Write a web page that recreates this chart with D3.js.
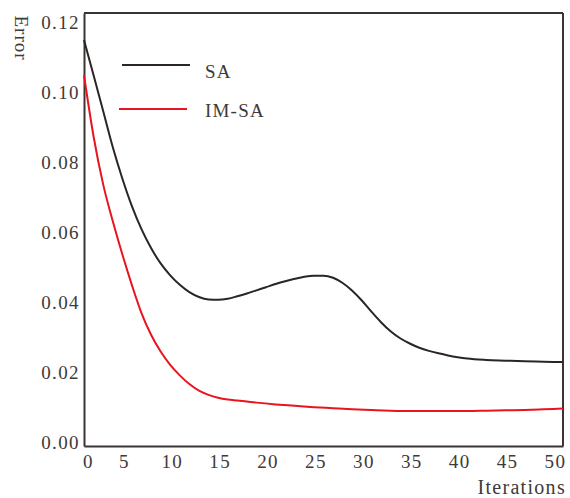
<!DOCTYPE html>
<html>
<head>
<meta charset="utf-8">
<script src="https://cdn.jsdelivr.net/npm/d3@7"></script>
<style>
  body { margin: 0; background: #fff; }
  svg { display: block; }
  text { font-family: "Liberation Serif", "Times New Roman", serif; fill: #3e3a39; }
</style>
</head>
<body>
<svg></svg>
<script>
// iterations and error values
let iterations = [0,1,2,3,4,5,6,7,8,9,10,11,12,13,14,15,16,17,18,19,20,21,22,23,24,25,26,27,28,29,30,31,32,33,34,35,36,37,38,39,40,42,44,46,48,50]
let saError = [0.1161,0.1060,0.0958,0.0855,0.0765,0.0686,0.0620,0.0566,0.0522,0.0488,0.0461,0.0440,0.0426,0.0419,0.0418,0.0421,0.0428,0.0436,0.0445,0.0454,0.0463,0.0471,0.0478,0.0484,0.0487,0.0487,0.0481,0.0466,0.0444,0.0416,0.0384,0.0354,0.0328,0.0308,0.0293,0.0281,0.0272,0.0265,0.0259,0.0254,0.0250,0.0246,0.0244,0.0242,0.0241,0.0240]
let imsaIter = [0,1,2,3,4,5,6,7,8,9,10,11,12,13,14,15,16,17,18,20,22,24,26,28,30,32,34,36,38,40,42,44,46,48,50]
let imsaError = [0.106,0.0885,0.0748,0.0643,0.0548,0.0460,0.0380,0.0318,0.0270,0.0232,0.0202,0.0177,0.0158,0.0146,0.0138,0.0133,0.0130,0.0127,0.0124,0.0119,0.0115,0.0111,0.0108,0.0105,0.0103,0.0101,0.0100,0.0100,0.0100,0.0100,0.0101,0.0102,0.0103,0.0105,0.0107]

let xTicks = [0,5,10,15,20,25,30,35,40,45,50]
let yTicks = [0,0.02,0.04,0.06,0.08,0.10,0.12]
let seriesNames = ['SA', 'IM-SA']

let width = 570
let height = 498
let plotLeft = 84, plotRight = 563, plotTop = 13, plotBottom = 446

let svg = d3.select('svg').attr('width', width).attr('height', height)

let xScale = d3.scaleLinear().domain([0, 50]).range([plotLeft, plotRight])
let yScale = d3.scaleLinear().domain([0, 0.1238]).range([plotBottom, plotTop])

let axisColor = '#3a3533'

// x axis
let xAxis = d3.axisBottom(xScale).tickValues(xTicks).tickSize(0).tickFormat(d3.format('d'))
let gx = svg.append('g')
  .attr('transform', 'translate(0,' + plotBottom + ')')
  .call(xAxis)
gx.select('.domain').attr('stroke', axisColor).attr('stroke-width', 2)
gx.selectAll('text')
  .attr('y', 16)
  .attr('dy', '0.32em')
  .attr('dx', (d) => d === 0 ? 4 : -8)
  .style('font-size', '19px')
  .style('letter-spacing', '1.4px')
  .attr('fill', '#3e3a39')

// y axis
let yAxis = d3.axisLeft(yScale).tickValues(yTicks).tickSize(0).tickFormat(d3.format('.2f'))
let gy = svg.append('g')
  .attr('transform', 'translate(' + plotLeft + ',0)')
  .call(yAxis)
gy.select('.domain').attr('stroke', axisColor).attr('stroke-width', 2)
gy.selectAll('text')
  .attr('x', -4)
  .attr('dy', '0.32em')
  .attr('y', -4)
  .style('font-size', '19px')
  .style('letter-spacing', '1.4px')
  .attr('fill', '#3e3a39')

// frame top and right
svg.append('line').attr('x1', plotLeft).attr('x2', plotRight).attr('y1', plotTop).attr('y2', plotTop)
  .attr('stroke', axisColor).attr('stroke-width', 2)
svg.append('line').attr('x1', plotRight).attr('x2', plotRight).attr('y1', plotTop).attr('y2', plotBottom)
  .attr('stroke', axisColor).attr('stroke-width', 2)

// axis titles
svg.append('text')
  .attr('transform', 'translate(15,38) rotate(90)')
  .attr('text-anchor', 'middle')
  .style('font-size', '19px')
  .style('letter-spacing', '1px')
  .text('Error')

svg.append('text')
  .attr('x', 566)
  .attr('y', 494)
  .attr('text-anchor', 'end')
  .style('font-size', '20px')
  .style('letter-spacing', '1.3px')
  .text('Iterations')

// lines
let line = d3.line()
  .x((d) => xScale(d[0]))
  .y((d) => yScale(d[1]))
  .curve(d3.curveMonotoneX)

let saData = iterations.map((it, i) => [it, saError[i]])
let imsaData = imsaIter.map((it, i) => [it, imsaError[i]])

svg.append('path').datum(saData)
  .attr('d', line)
  .attr('fill', 'none')
  .attr('stroke', '#2b2523')
  .attr('stroke-width', 2)

svg.append('path').datum(imsaData)
  .attr('d', line)
  .attr('fill', 'none')
  .attr('stroke', '#e8141f')
  .attr('stroke-width', 2)

// legend
let legendColors = ['#2b2523', '#e8141f']
let legendLines = [[122, 190, 65], [119, 187, 109]]
let legendTextY = [71, 110]
seriesNames.forEach((name, i) => {
  svg.append('line')
    .attr('x1', legendLines[i][0]).attr('x2', legendLines[i][1])
    .attr('y1', legendLines[i][2]).attr('y2', legendLines[i][2])
    .attr('stroke', legendColors[i]).attr('stroke-width', 2)
  svg.append('text')
    .attr('x', 205)
    .attr('y', legendTextY[i])
    .attr('dy', '0.35em')
    .style('font-size', '19px')
    .style('letter-spacing', '1.2px')
    .text(name)
})
</script>
</body>
</html>
